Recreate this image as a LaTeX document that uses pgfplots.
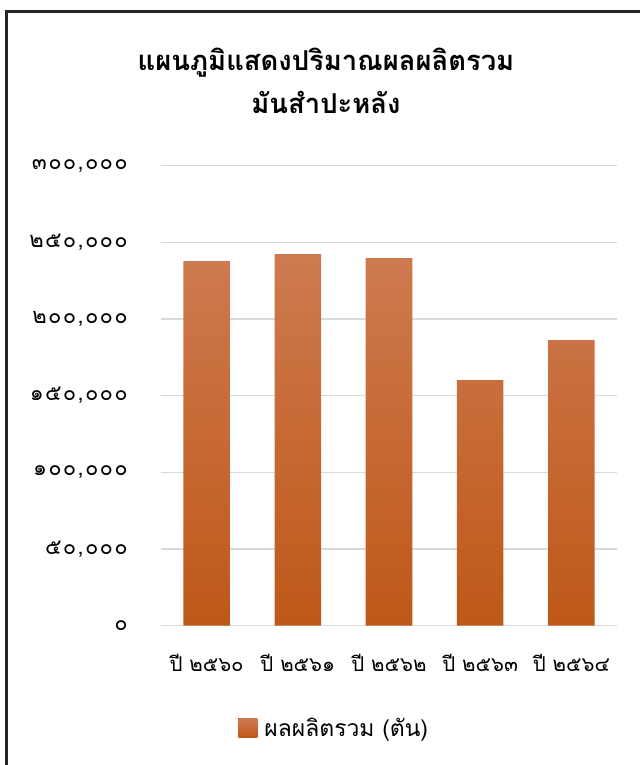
\documentclass[border=0pt]{standalone}
\usepackage{fontspec}
\setmainfont[Script=Thai]{Loma}
\usepackage{pgfplots}
\pgfplotsset{compat=1.18}
\definecolor{bartop}{RGB}{206,122,80}
\definecolor{barbot}{RGB}{190,88,24}
\definecolor{gridc}{RGB}{217,217,217}
\begin{document}
\begin{tikzpicture}
\useasboundingbox (0,0) rectangle (640bp,-765bp);
% frame (only left and top edges visible)
\draw[line width=2.5bp, black!85] (6.5bp,-766bp) -- (6.5bp,-11.5bp) -- (641bp,-11.5bp);
% title
\node[anchor=base, font=\bfseries\fontsize{27.5}{32}\selectfont] at (326bp,-70bp) {แผนภูมิแสดงปริมาณผลผลิตรวม};
\node[anchor=base, font=\bfseries\fontsize{27.5}{32}\selectfont] at (326bp,-113bp) {มันสำปะหลัง};
\begin{axis}[
at={(161bp,-625.7bp)}, anchor=south west,
scale only axis,
width=456bp, height=460bp,
xmin=-0.5, xmax=4.5,
ymin=0, ymax=300000,
scaled y ticks=false,
axis line style={draw=none},
major tick length=0pt,
ymajorgrids=true,
major grid style={gridc, line width=1.5bp},
ytick={0,50000,100000,150000,200000,250000,300000},
yticklabels={๐,{๕๐,๐๐๐},{๑๐๐,๐๐๐},{๑๕๐,๐๐๐},{๒๐๐,๐๐๐},{๒๕๐,๐๐๐},{๓๐๐,๐๐๐}},
xtick=data,
xticklabels={ปี ๒๕๖๐,ปี ๒๕๖๑,ปี ๒๕๖๒,ปี ๒๕๖๓,ปี ๒๕๖๔},
yticklabel style={font=\fontsize{22}{26}\selectfont\addfontfeature{LetterSpace=6}, anchor=east, inner sep=0pt, xshift=-33bp},
xticklabel style={font=\fontsize{20.5}{24}\selectfont, inner sep=0pt, yshift=-28bp},
ybar, bar width=0.51,
legend style={draw=none, fill=none, at={(0.38,-0.222)}, anchor=center,
  font=\fontsize{23}{26}\selectfont},
legend image code/.code={\fill[top color=bartop, bottom color=barbot] (0bp,-9.5bp) rectangle (19bp,9.5bp);
  \path (0bp,0bp) -- (24bp,0bp);},
]
\addplot[draw=none, top color=bartop, bottom color=barbot] coordinates {
(0,237700) (1,242300) (2,239700) (3,160200) (4,186300)
};
\addlegendentry{ผลผลิตรวม (ตัน)}
\end{axis}
\end{tikzpicture}
\end{document}
